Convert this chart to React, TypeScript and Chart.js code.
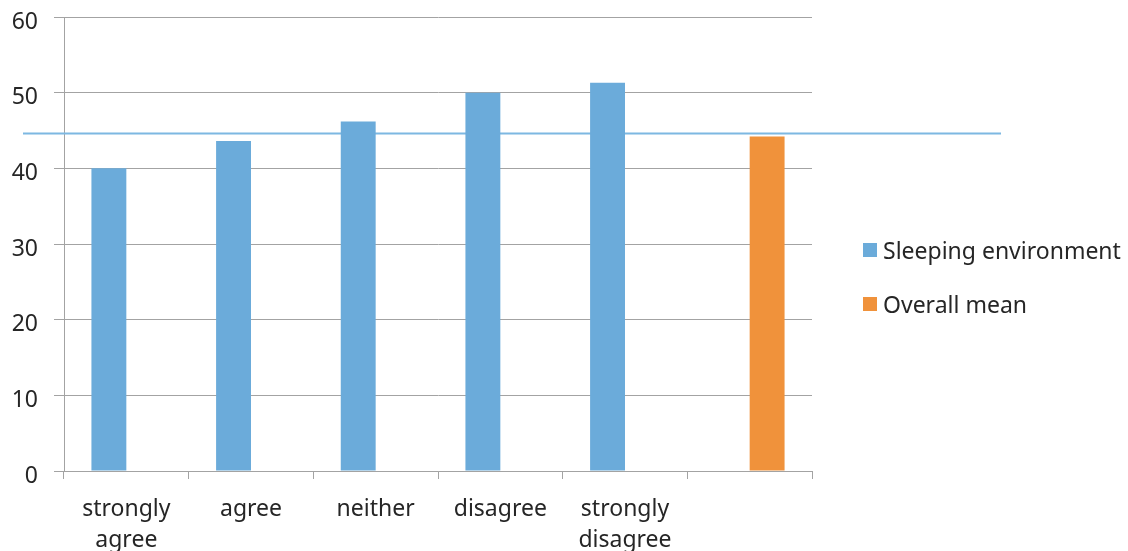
import React, { useEffect, useRef } from "react";
import { Chart, registerables } from "chart.js";

Chart.register(...registerables);

const categories: (string | string[])[] = [
  ["strongly", "agree"],
  "agree",
  "neither",
  "disagree",
  ["strongly", "disagree"],
  "",
];
const sleepingEnvironment: (number | null)[] = [40.0, 43.6, 46.2, 50.0, 51.3, null];
const overallMean: (number | null)[] = [null, null, null, null, null, 44.2];
const meanLineValue = 44.6;
const yTicks = [0, 10, 20, 30, 40, 50, 60];

const BLUE = "#6BABDA";
const ORANGE = "#F0923B";
const LINE_BLUE = "#7DB8E2";
const GRID = "#A3A3A3";
const TEXT = "#262626";
const FONT = "Noto Sans";

const meanLinePlugin = {
  id: "meanLine",
  beforeDatasetsDraw(chart: any) {
    const y = chart.scales.y.getPixelForValue(meanLineValue);
    const ctx = chart.ctx;
    ctx.save();
    ctx.strokeStyle = LINE_BLUE;
    ctx.lineWidth = 2;
    ctx.beginPath();
    ctx.moveTo(23, y);
    ctx.lineTo(1001, y);
    ctx.stroke();
    ctx.restore();
  },
};

const legendPlugin = {
  id: "customLegend",
  afterDraw(chart: any) {
    const ctx = chart.ctx;
    ctx.save();
    ctx.font = `23px "${FONT}"`;
    ctx.textBaseline = "middle";
    ctx.textAlign = "left";
    const centers = [250, 304];
    chart.data.datasets.forEach((ds: any, i: number) => {
      const yc = centers[i];
      ctx.fillStyle = ds.backgroundColor;
      ctx.fillRect(863, yc - 7, 14, 14);
      ctx.fillStyle = TEXT;
      ctx.fillText(ds.label, 883, yc + 2);
    });
    ctx.restore();
  },
};

export default function App() {
  const ref = useRef<HTMLCanvasElement>(null);
  useEffect(() => {
    if (!ref.current) return;
    const chart = new Chart(ref.current, {
      type: "bar",
      data: {
        labels: categories,
        datasets: [
          {
            label: "Sleeping environment",
            data: sleepingEnvironment,
            backgroundColor: BLUE,
            barPercentage: 1,
            categoryPercentage: 0.56,
          },
          {
            label: "Overall mean",
            data: overallMean,
            backgroundColor: ORANGE,
            barPercentage: 1,
            categoryPercentage: 0.56,
          },
        ],
      },
      options: {
        animation: false,
        responsive: false,
        devicePixelRatio: 1,
        layout: { padding: { left: 0, right: 316, top: 17, bottom: 0 } },
        plugins: {
          legend: { display: false },
          tooltip: { enabled: false },
        },
        scales: {
          x: {
            grid: {
              offset: true,
              drawOnChartArea: false,
              drawTicks: true,
              tickLength: 8,
              color: GRID,
            },
            border: { color: GRID, width: 1 },
            ticks: {
              color: TEXT,
              font: { family: FONT, size: 23, lineHeight: 1.35 },
              padding: 15,
              maxRotation: 0,
              autoSkip: false,
            },
            afterFit(scale: any) {
              scale.height = 80;
              scale.paddingLeft = 0;
              scale.paddingRight = 0;
            },
          },
          y: {
            min: 0,
            max: 60,
            afterBuildTicks(scale: any) {
              scale.ticks = yTicks.map((v) => ({ value: v }));
            },
            grid: { color: GRID, tickLength: 10, lineWidth: 1 },
            border: { color: GRID, width: 1 },
            ticks: {
              color: TEXT,
              font: { family: FONT, size: 23 },
              padding: 16,
              labelOffset: 5,
            },
            afterFit(scale: any) {
              scale.width = 64;
              scale.paddingTop = 0;
              scale.paddingBottom = 0;
            },
          },
        },
      },
      plugins: [meanLinePlugin, legendPlugin],
    });
    return () => chart.destroy();
  }, []);
  return (
    <div style={{ position: "absolute", left: 0, top: 0, width: 1128, height: 551, background: "#fff" }}>
      <canvas ref={ref} width={1128} height={551} />
    </div>
  );
}
